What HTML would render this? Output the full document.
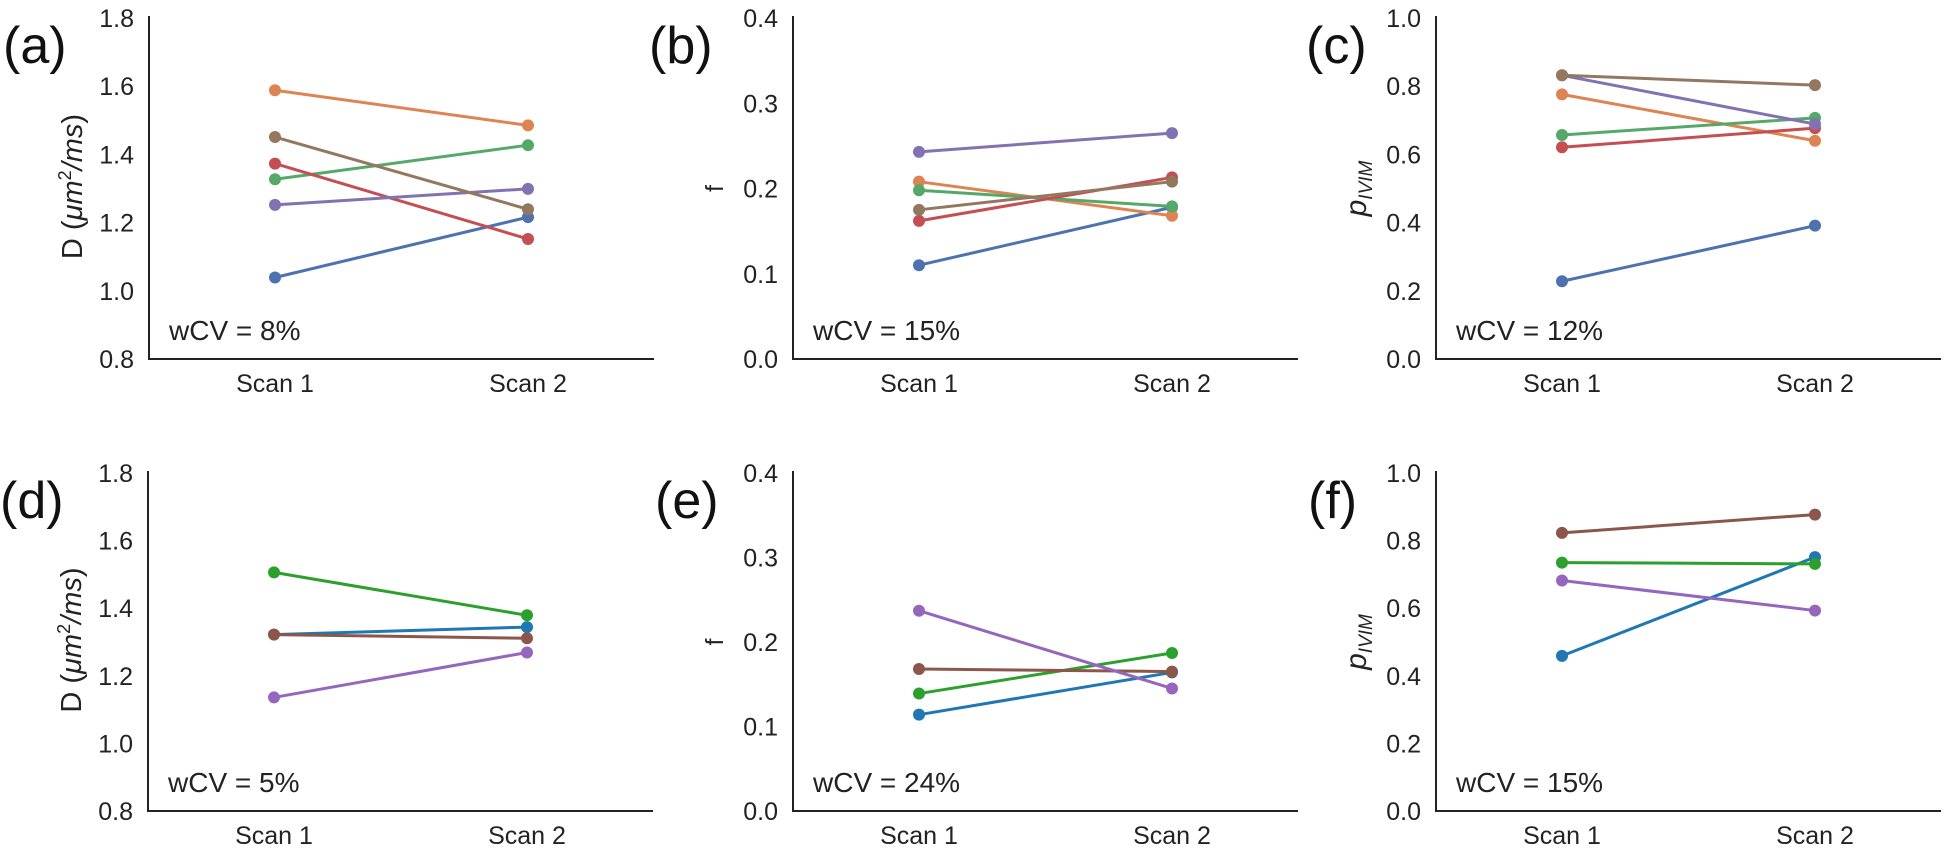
<!DOCTYPE html>
<html><head><meta charset="utf-8">
<style>
html,body{margin:0;padding:0;background:#fff;}
svg{display:block;font-family:"Liberation Sans",sans-serif;}
</style></head>
<body>
<svg id="fig" width="1949" height="848" viewBox="0 0 1949 848" xmlns="http://www.w3.org/2000/svg"></svg>
<script>
const scanLabels = ["Scan 1","Scan 2"];
// panel a: D, top row (seaborn deep colors)
const aBlue=[1.039,1.216], aOrange=[1.588,1.485], aGreen=[1.327,1.427], aRed=[1.373,1.152], aPurple=[1.252,1.299], aBrown=[1.451,1.239];
// panel b: f
const bBlue=[0.110,0.178], bOrange=[0.208,0.168], bGreen=[0.198,0.179], bRed=[0.162,0.213], bPurple=[0.243,0.265], bBrown=[0.175,0.208];
// panel c: pIVIM
const cBlue=[0.228,0.391], cOrange=[0.776,0.640], cGreen=[0.657,0.707], cRed=[0.621,0.677], cPurple=[0.832,0.689], cBrown=[0.832,0.803];
// panel d: D bottom row
const dBlue=[1.322,1.344], dGreen=[1.506,1.379], dPurple=[1.136,1.269], dBrown=[1.322,1.311];
// panel e: f
const eBlue=[0.114,0.164], eGreen=[0.139,0.187], ePurple=[0.237,0.145], eBrown=[0.168,0.165];
// panel f: pIVIM
const fBlue=[0.459,0.751], fGreen=[0.735,0.731], fPurple=[0.682,0.593], fBrown=[0.823,0.877];
const dTicks=["0.8","1.0","1.2","1.4","1.6","1.8"];
const fTicks=["0.0","0.1","0.2","0.3","0.4"];
const pTicks=["0.0","0.2","0.4","0.6","0.8","1.0"];
const wcvLabels=["wCV = 8%","wCV = 15%","wCV = 12%","wCV = 5%","wCV = 24%","wCV = 15%"];

const deep={blue:"#4c72b0",orange:"#dd8452",green:"#55a868",red:"#c44e52",purple:"#8172b3",brown:"#937860"};
const tab={blue:"#1f77b4",green:"#2ca02c",purple:"#9467bd",brown:"#8c564b"};

const NS="http://www.w3.org/2000/svg";
const svg=document.getElementById('fig');
function mk(tag,attrs,parent){const e=document.createElementNS(NS,tag);for(const k in attrs)e.setAttribute(k,attrs[k]);(parent||svg).appendChild(e);return e;}

const panels=[
 {id:"a",letter:"(a)",lx:3,ax:149,top:18,bot:359,min:0.8,max:1.8,ticks:dTicks,yt:"D",wcv:0,
  series:[["blue",aBlue,deep],["orange",aOrange,deep],["green",aGreen,deep],["red",aRed,deep],["purple",aPurple,deep],["brown",aBrown,deep]]},
 {id:"b",letter:"(b)",lx:649,ax:793,top:18,bot:359,min:0,max:0.4,ticks:fTicks,yt:"f",wcv:1,
  series:[["blue",bBlue,deep],["orange",bOrange,deep],["green",bGreen,deep],["red",bRed,deep],["brown",bBrown,deep],["purple",bPurple,deep]]},
 {id:"c",letter:"(c)",lx:1306,ax:1436,top:18,bot:359,min:0,max:1.0,ticks:pTicks,yt:"p",wcv:2,
  series:[["blue",cBlue,deep],["orange",cOrange,deep],["green",cGreen,deep],["red",cRed,deep],["purple",cPurple,deep],["brown",cBrown,deep]]},
 {id:"d",letter:"(d)",lx:0,ax:148,top:473,bot:811,min:0.8,max:1.8,ticks:dTicks,yt:"D",wcv:3,
  series:[["blue",dBlue,tab],["green",dGreen,tab],["purple",dPurple,tab],["brown",dBrown,tab]]},
 {id:"e",letter:"(e)",lx:655,ax:793,top:473,bot:811,min:0,max:0.4,ticks:fTicks,yt:"f",wcv:4,
  series:[["blue",eBlue,tab],["green",eGreen,tab],["brown",eBrown,tab],["purple",ePurple,tab]]},
 {id:"f",letter:"(f)",lx:1308,ax:1436,top:473,bot:811,min:0,max:1.0,ticks:pTicks,yt:"p",wcv:5,
  series:[["blue",fBlue,tab],["purple",fPurple,tab],["green",fGreen,tab],["brown",fBrown,tab]]}
];

panels.forEach(p=>{
  const g=mk('g',{});
  
  
  const yS=v=>p.bot-(v-p.min)/(p.max-p.min)*(p.bot-p.top);
  const xS=i=>p.ax+126+i*253;
  const right=p.ax+505;
  // panel letter
  const L=mk('text',{x:p.lx,y:p.top+45,'font-size':52,fill:'#111'},g);L.textContent=p.letter;
  
  
  // axes
  const ya=mk('line',{x1:p.ax,y1:p.top-2,x2:p.ax,y2:p.bot+1,stroke:'#222','stroke-width':2},g);
  
  
  const xa=mk('line',{x1:p.ax-1,y1:p.bot,x2:right,y2:p.bot,stroke:'#222','stroke-width':2},g);
  
  
  // y ticks
  p.ticks.forEach(t=>{
    const tt=mk('text',{x:p.ax-15,y:yS(parseFloat(t))+9,'font-size':25,'text-anchor':'end',fill:'#222'},g);
    tt.textContent=t;
    
    
  });
  // x labels
  scanLabels.forEach((s,i)=>{
    const xt=mk('text',{x:xS(i),y:p.bot+33,'font-size':25,'text-anchor':'middle',fill:'#222'},g);
    xt.textContent=s;
    
    
  });
  // y title
  const cy=(p.top+p.bot)/2;
  let yt;
  if(p.yt==="D"){
    yt=mk('text',{x:0,y:0,'font-size':29,'text-anchor':'middle',fill:'#222',transform:`translate(${p.ax-67},${cy-2}) rotate(-90)`},g);
    yt.innerHTML='D (<tspan font-style="italic">μm</tspan><tspan font-size="18" dy="-11">2</tspan><tspan dy="11" font-style="italic">/ms</tspan>)';
  } else if(p.yt==="f"){
    yt=mk('text',{x:0,y:0,'font-size':25,'text-anchor':'middle',fill:'#222',transform:`translate(${p.ax-70},${yS(0.2)}) rotate(-90)`},g);
    yt.textContent='f';
  } else {
    yt=mk('text',{x:0,y:0,'font-size':30,'text-anchor':'middle',fill:'#222',transform:`translate(${p.ax-70},${yS(0.5)}) rotate(-90)`},g);
    yt.innerHTML='<tspan font-style="italic">p</tspan><tspan font-size="19" font-style="italic" dy="6">IVIM</tspan>';
  }
  
  
  // wCV
  const w=mk('text',{x:p.ax+20,y:p.bot-19,'font-size':28,fill:'#222'},g);
  w.textContent=wcvLabels[p.wcv];
  
  
  // series
  p.series.forEach(([name,vals,pal])=>{
    const c=pal[name];
    const sg=mk('g',{},g);
    
    
    const ln=mk('line',{x1:xS(0),y1:yS(vals[0]),x2:xS(1),y2:yS(vals[1]),stroke:c,'stroke-width':3},sg);
    
    
    vals.forEach((v,i)=>{
      const pt=mk('circle',{cx:xS(i),cy:yS(v),r:6,fill:c},sg);
      
      
    });
  });
});
</script>
</body></html>
